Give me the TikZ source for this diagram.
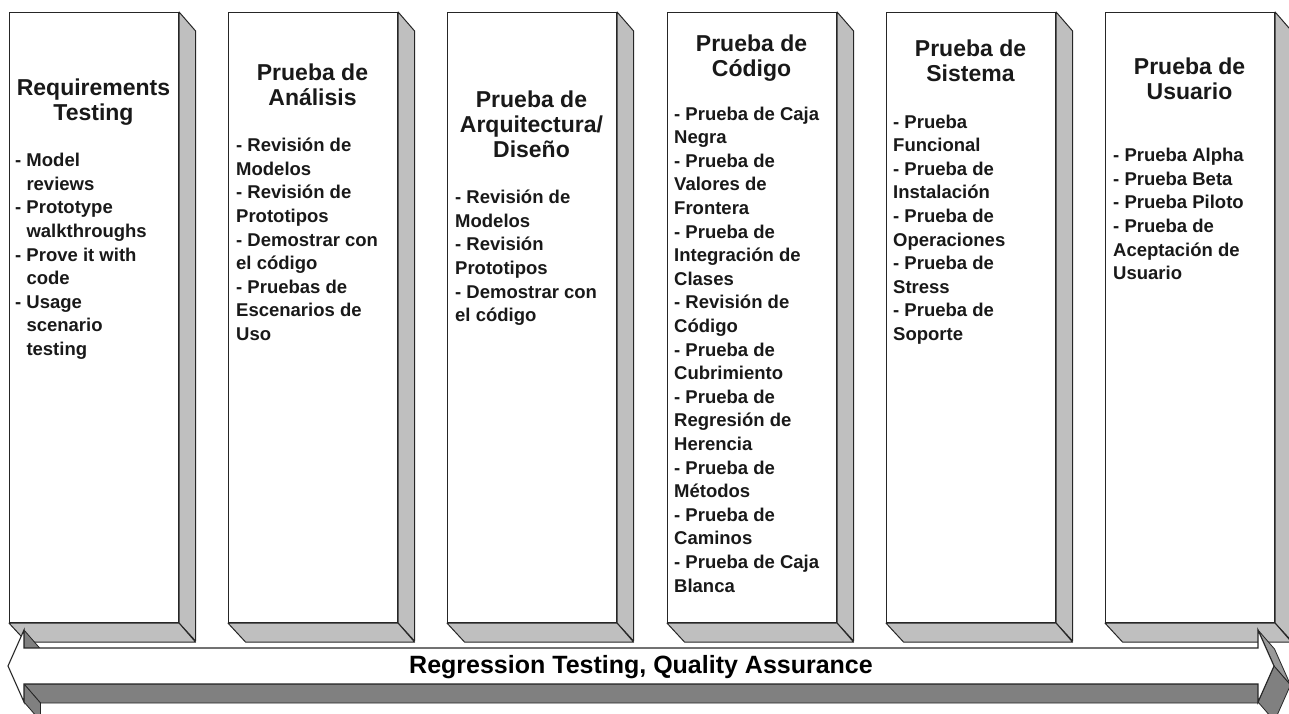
\documentclass[tikz,border=0pt]{standalone}
\usepackage{fontspec}
\setmainfont{Liberation Sans}

\begin{document}
\begin{tikzpicture}[x=1pt, y=-1pt,
    colbox/.style={rectangle, draw=black!85, fill=white, line width=1.1pt,
                   minimum width=169pt, minimum height=610pt, inner sep=0pt, anchor=north west},
    sideface/.style={draw=black!85, fill=black!25, line width=1pt, line join=round},
    head/.style={font=\fontsize{23}{25}\selectfont\bfseries, align=center,
                 anchor=north, inner sep=0pt, text=black!90},
    items/.style={font=\fontsize{18.5}{23.6}\selectfont\bfseries, align=left,
                  anchor=north west, inner sep=0pt, text=black!90},
    band/.style={draw=black!85, fill=black!50, line width=0.8pt, line join=round},
    bandlight/.style={draw=black!85, fill=black!40, line width=0.8pt, line join=round},
    front/.style={draw=black!85, fill=white, line width=1.1pt, line join=miter}
  ]
    \useasboundingbox (0,0) rectangle (1289,713);
    \clip (0,0) rectangle (1289,713);

    % columns (front face + side and bottom faces)
    \foreach \n/\x in {req/9,ana/228,arq/447,cod/667,sis/886,usu/1105}{
      \node[colbox] (\n) at (\x,12) {};
      \draw[sideface] (\n.north east) -- ++(16.5,19) -- ++(0,610) -- (\n.south east) -- cycle;
      \draw[sideface] (\n.south west) -- (\n.south east) -- ++(16.5,19) -- ++(-169,0) -- cycle;
    }

    % titles
    \node[head] (reqT) at (93.5,78.5)  {Requirements\\Testing};
    \node[head] (anaT) at (312.5,64)   {Prueba de\\An\'alisis};
    \node[head] (arqT) at (531.5,90.5) {Prueba de\\Arquitectura/\\Dise\~no};
    \node[head] (codT) at (751.5,35)   {Prueba de\\C\'odigo};
    \node[head] (sisT) at (970.5,40)   {Prueba de\\Sistema};
    \node[head] (usuT) at (1189.5,57.5) {Prueba de\\Usuario};

    % lists
    \node[items] (reqL) at (15,153) {- Model\\\hphantom{- }reviews\\- Prototype\\\hphantom{- }walkthroughs\\- Prove it with\\\hphantom{- }code\\- Usage\\\hphantom{- }scenario\\\hphantom{- }testing};
    \node[items] (anaL) at (236,138) {- Revisi\'on de\\Modelos\\- Revisi\'on de\\Prototipos\\- Demostrar con\\el c\'odigo\\- Pruebas de\\Escenarios de\\Uso};
    \node[items] (arqL) at (455,190) {- Revisi\'on de\\Modelos\\- Revisi\'on\\Prototipos\\- Demostrar con\\el c\'odigo};
    \node[items] (codL) at (674,106.5) {- Prueba de Caja\\Negra\\- Prueba de\\Valores de\\Frontera\\- Prueba de\\Integraci\'on de\\Clases\\- Revisi\'on de\\C\'odigo\\- Prueba de\\Cubrimiento\\- Prueba de\\Regresi\'on de\\Herencia\\- Prueba de\\M\'etodos\\- Prueba de\\Caminos\\- Prueba de Caja\\Blanca};
    \node[items] (sisL) at (893,114.5) {- Prueba\\Funcional\\- Prueba de\\Instalaci\'on\\- Prueba de\\Operaciones\\- Prueba de\\Stress\\- Prueba de\\Soporte};
    \node[items] (usuL) at (1113,148) {- Prueba Alpha\\- Prueba Beta\\- Prueba Piloto\\- Prueba de\\Aceptaci\'on de\\Usuario};

    % double arrow along the bottom
    \coordinate (ltip) at (8,666);
    \coordinate (lhu) at (24,630);
    \coordinate (lsu) at (24,648);
    \coordinate (rsu) at (1258,648);
    \coordinate (rhu) at (1258,630);
    \coordinate (rtip) at (1274,666);
    \coordinate (rhd) at (1258,702);
    \coordinate (rsd) at (1258,684);
    \coordinate (lsd) at (24,684);
    \coordinate (lhd) at (24,702);

    \draw[band] (lsd) -- (rsd) -- ++(16.5,19) -- ++(-1234,0) -- cycle;
    \draw[band] (lhu) -- (lsu) -- ++(16.5,19) -- ++(0,-18) -- cycle;
    \draw[band] (lsd) -- (lhd) -- ++(16.5,19) -- ++(0,-18) -- cycle;
    \draw[bandlight] (rhu) -- (rtip) -- ++(16.5,19) -- ++(-16,-36) -- cycle;
    \draw[band] (rtip) -- (rhd) -- ++(16.5,19) -- ++(16,-36) -- cycle;
    \draw[front] (ltip) -- (lhu) -- (lsu) -- (rsu) -- (rhu) -- (rtip) -- (rhd) -- (rsd) -- (lsd) -- (lhd) -- cycle;

    \node[font=\fontsize{25}{30}\selectfont\bfseries, anchor=base, inner sep=0pt] (qa) at (641,673)
      {Regression Testing, Quality Assurance};
\end{tikzpicture}
\end{document}
